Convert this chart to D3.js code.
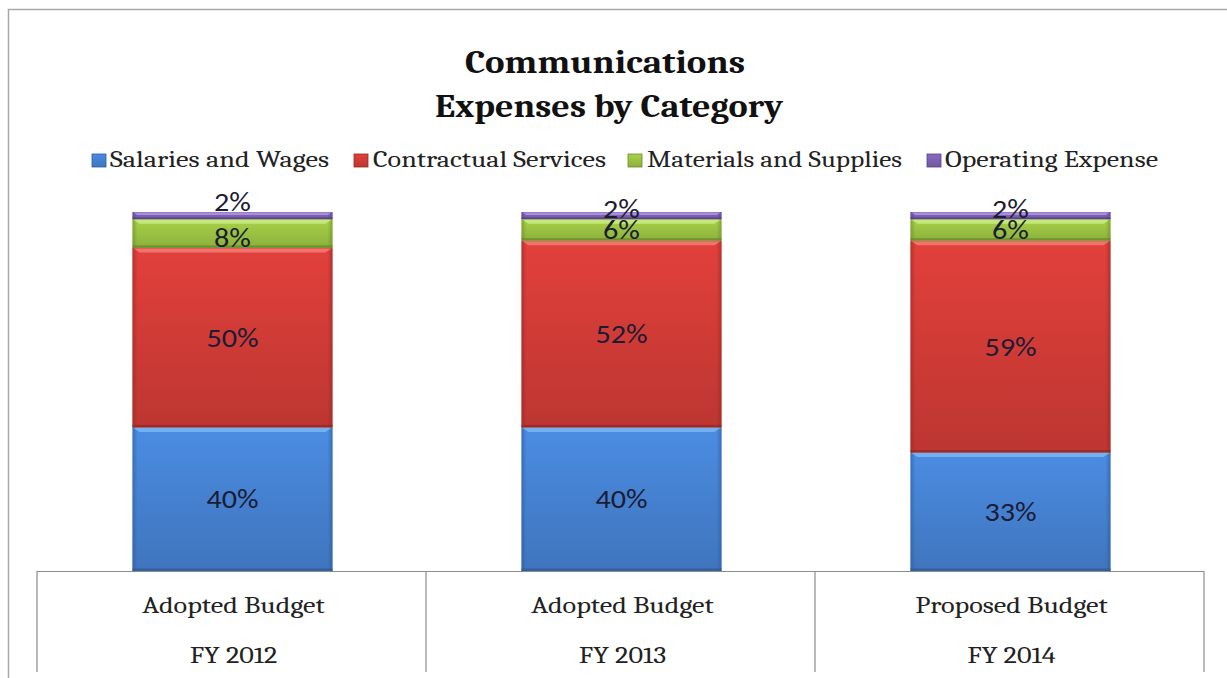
<!DOCTYPE html>
<html>
<head>
<meta charset="utf-8">
<script src="https://cdn.jsdelivr.net/npm/d3@7"></script>
<style>
html,body{margin:0;padding:0;background:#fff;}
svg{display:block;}
</style>
</head>
<body>
<svg id="chart" width="1227" height="678"></svg>
<script>
const title = ["Communications", "Expenses by Category"];
const categoriesLine1 = ["Adopted Budget", "Adopted Budget", "Proposed Budget"];
const categoriesLine2 = ["FY 2012", "FY 2013", "FY 2014"];
const seriesNames = ["Salaries and Wages", "Contractual Services", "Materials and Supplies", "Operating Expense"];
const salaries = [40, 40, 33];
const contractual = [50, 52, 59];
const materials = [8, 6, 6];
const operating = [2, 2, 2];

const colors = {
  main: ["#4682d2", "#d23c37", "#9cc443", "#8062b4"],
  light: ["#78b4f2", "#f27a74", "#c8ea7e", "#ac94dc"],
  dark: ["#2e5c9a", "#962826", "#6a8a28", "#56408a"]
};

const svg = d3.select("#chart");
const serif = "Cambria, Caladea, 'Liberation Serif', 'DejaVu Serif', serif";
const sans = "Carlito, Calibri, 'Liberation Sans', Arial, sans-serif";

// stretch helper: widen text horizontally to a target width
function fitWidth(sel, target) {
  sel.each(function () {
    const w = this.getComputedTextLength();
    if (w > 0) d3.select(this).attr("textLength", target).attr("lengthAdjust", "spacingAndGlyphs");
  });
  return sel;
}
function stretch(sel, f) {
  sel.each(function () {
    const w = this.getComputedTextLength();
    if (w > 0) d3.select(this).attr("textLength", w * f).attr("lengthAdjust", "spacingAndGlyphs");
  });
  return sel;
}

// outer border
svg.append("path").attr("d", "M8.5,678 L8.5,9.5 L1227,9.5")
  .attr("fill", "none").attr("stroke", "#a8a8a8").attr("stroke-width", 1.5);

// gradients
const defs = svg.append("defs");
colors.main.forEach((c, i) => {
  const g = defs.append("linearGradient").attr("id", "g" + i)
    .attr("x1", 0).attr("y1", 0).attr("x2", 0).attr("y2", 1);
  g.append("stop").attr("offset", "0%").attr("stop-color", d3.color(c).brighter(0.2));
  g.append("stop").attr("offset", "100%").attr("stop-color", d3.color(c).darker(0.3));
  const h = defs.append("linearGradient").attr("id", "h" + i)
    .attr("x1", 0).attr("y1", 0).attr("x2", 1).attr("y2", 0);
  h.append("stop").attr("offset", "0%").attr("stop-color", colors.dark[i]).attr("stop-opacity", 0.6);
  h.append("stop").attr("offset", "2.5%").attr("stop-color", colors.dark[i]).attr("stop-opacity", 0);
  h.append("stop").attr("offset", "97.5%").attr("stop-color", colors.dark[i]).attr("stop-opacity", 0);
  h.append("stop").attr("offset", "100%").attr("stop-color", colors.dark[i]).attr("stop-opacity", 0.6);
});

// title
fitWidth(svg.append("text").attr("x", 605).attr("y", 73).attr("text-anchor", "middle")
  .attr("font-family", serif).attr("font-weight", "bold").attr("font-size", 32).attr("fill", "#111")
  .text(title[0]), 280);
fitWidth(svg.append("text").attr("x", 609).attr("y", 117).attr("text-anchor", "middle")
  .attr("font-family", serif).attr("font-weight", "bold").attr("font-size", 32).attr("fill", "#111")
  .text(title[1]), 348);

// legend
const legendSquareX = [92, 354, 628, 927];
const legendTextX = [110, 373, 647, 945];
const legendTextW = [219, 233, 255, 213];
seriesNames.forEach((n, i) => {
  svg.append("rect").attr("x", legendSquareX[i]).attr("y", 154).attr("width", 14).attr("height", 13)
    .attr("fill", `url(#g${i})`).attr("stroke", colors.dark[i]).attr("stroke-width", 0.8);
  fitWidth(svg.append("text").attr("x", legendTextX[i]).attr("y", 167).attr("font-family", serif)
    .attr("font-size", 22).attr("fill", "#222").text(n), legendTextW[i]);
});

// scales
const catKeys = categoriesLine2;
const x = d3.scaleBand().domain(catKeys).range([37, 1204]).padding(0);
const barW = 200;
const y = d3.scaleLinear().domain([0, 100]).range([571, 212]);

const rows = catKeys.map((k, i) => ({ key: k, vals: [salaries[i], contractual[i], materials[i], operating[i]] }));
const stacked = d3.stack().keys([0, 1, 2, 3]).value((d, k) => d.vals[k])(rows);

const barsG = svg.append("g");
stacked.forEach((layer, si) => {
  layer.forEach((seg, ci) => {
    const x0 = x(catKeys[ci]) + (x.bandwidth() - barW) / 2 + 1;
    const yt = y(seg[1]), yb = y(seg[0]);
    const h = yb - yt;
    const g = barsG.append("g");
    g.append("rect").attr("x", x0).attr("y", yt).attr("width", barW).attr("height", h)
      .attr("fill", `url(#g${si})`);
    g.append("rect").attr("x", x0).attr("y", yt).attr("width", barW).attr("height", h)
      .attr("fill", `url(#h${si})`);
    const hl = Math.min(4, h / 3);
    g.append("path")
      .attr("d", `M${x0 + 1},${yt + 0.5} L${x0 + barW - 1},${yt + 0.5} L${x0 + barW - 1 - hl * 1.5},${yt + 0.5 + hl} L${x0 + 1 + hl * 1.5},${yt + 0.5 + hl} Z`)
      .attr("fill", colors.light[si]).attr("opacity", 0.9);
    const dk = Math.min(2.5, h / 4);
    g.append("rect").attr("x", x0).attr("y", yb - dk).attr("width", barW).attr("height", dk)
      .attr("fill", colors.dark[si]).attr("opacity", 0.8);
  });
});

// data labels
const topNudge = [-14, -7, -7];
stacked.forEach((layer, si) => {
  layer.forEach((seg, ci) => {
    const cx = x(catKeys[ci]) + x.bandwidth() / 2 + 1;
    let cy = (y(seg[0]) + y(seg[1])) / 2;
    if (si === 3) cy += topNudge[ci];
    if (si === 2 && ci === 0) cy += 4;
    const t = svg.append("text").attr("x", cx).attr("y", cy).attr("dy", "0.35em").attr("text-anchor", "middle")
      .attr("font-family", sans).attr("font-size", 26).attr("fill", "#1c1c34")
      .text(rows[ci].vals[si] + "%");
    stretch(t, 1.16);
  });
});

// category table lines
const axisG = svg.append("g").attr("stroke", "#8c8c8c").attr("stroke-width", 1.2);
axisG.append("line").attr("x1", 37).attr("x2", 1204).attr("y1", 571.5).attr("y2", 571.5);
const bounds = catKeys.map(k => x(k)).concat([x(catKeys[catKeys.length - 1]) + x.bandwidth()]);
bounds.forEach(b => {
  axisG.append("line").attr("x1", b).attr("x2", b).attr("y1", 571).attr("y2", 672);
});

// category labels
catKeys.forEach((k, i) => {
  const cx = x(k) + x.bandwidth() / 2 + 2;
  stretch(svg.append("text").attr("x", cx).attr("y", 613).attr("text-anchor", "middle")
    .attr("font-family", serif).attr("font-size", 23.5).attr("fill", "#222").text(categoriesLine1[i]), 1.2);
  stretch(svg.append("text").attr("x", cx).attr("y", 663).attr("text-anchor", "middle")
    .attr("font-family", serif).attr("font-size", 23.5).attr("fill", "#222").text(categoriesLine2[i]), 1.2);
});
</script>
</body>
</html>
